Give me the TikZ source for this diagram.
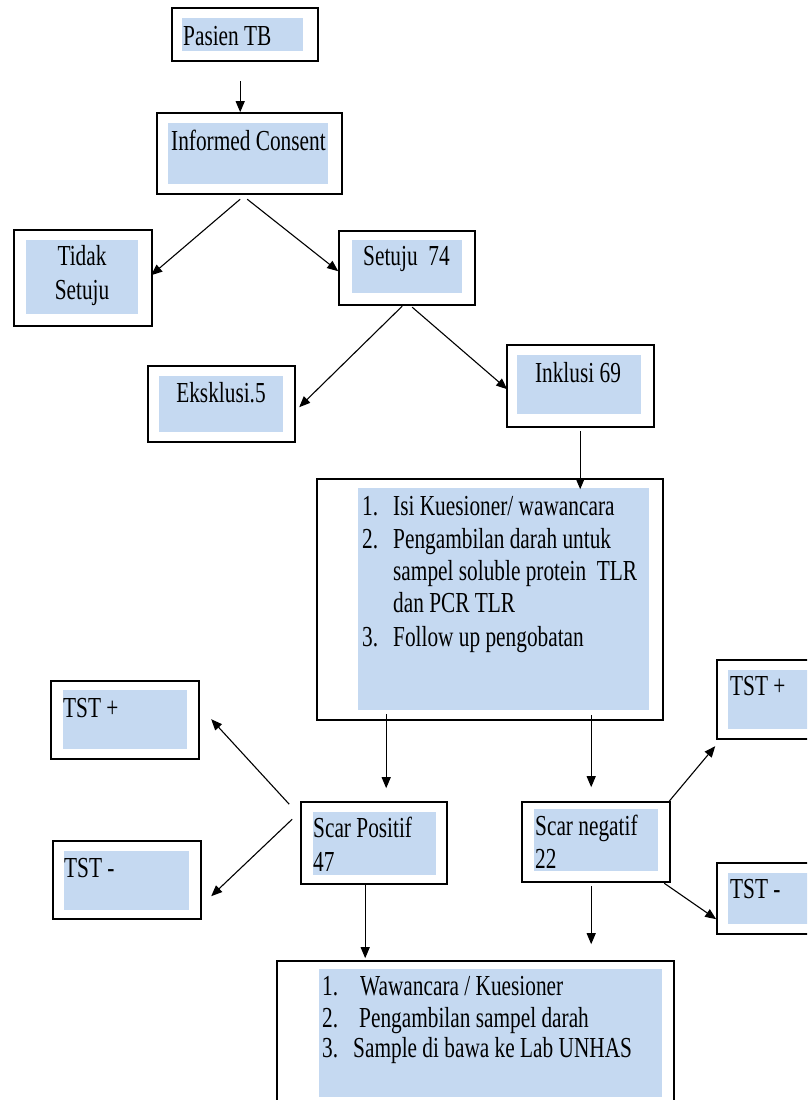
\documentclass[tikz,border=0pt]{standalone}
\usepackage{fontspec}
\setmainfont{Liberation Serif}[FakeStretch=0.735]
\usetikzlibrary{arrows.meta,calc,fit}

\definecolor{boxblue}{RGB}{197,217,241}

\tikzset{
  outerbox/.style={draw=black, line width=1.6pt, inner sep=0pt, fill=white},
  innerfill/.style={fill=boxblue},
  txt/.style={inner sep=0pt, anchor=base west, font=\fontsize{29}{32.5}\selectfont},
  ctxt/.style={txt, anchor=base},
  arr/.style={draw=black, line width=1.1pt, -{Triangle[length=11pt,width=9pt]}}
}

\begin{document}
\begin{tikzpicture}[x=1pt, y=-1pt]
  \useasboundingbox (0,0) rectangle (807,1100);
  \clip (0,0) rectangle (807,1100);
  \fill[white] (0,0) rectangle (807,1100);

  % ---- boxes: frame, shaded panel, text ----
  \node[outerbox, fit={(172,8) (318,61)}] (pasien) {};
  \fill[innerfill] (182,18) rectangle (303,51);
  \node[txt] at (183,45) {Pasien TB};

  \node[outerbox, fit={(157,113) (342,194)}] (consent) {};
  \fill[innerfill] (168,123) rectangle (328,184);
  \node[txt] at (171,150) {Informed Consent};

  \node[outerbox, fit={(14,230) (152,326)}] (tidak) {};
  \fill[innerfill] (26,240) rectangle (138,314);
  \node[ctxt] at (82,265) {Tidak};
  \node[ctxt] at (82,299) {Setuju};

  \node[outerbox, fit={(339,231) (475,305)}] (setuju) {};
  \fill[innerfill] (352,240) rectangle (462,293);
  \node[txt] at (363,265) {Setuju~\ 74};

  \node[outerbox, fit={(148,366) (295,442)}] (eksklusi) {};
  \fill[innerfill] (159,376) rectangle (283,432);
  \node[ctxt] at (221,402) {Eksklusi.5};

  \node[outerbox, fit={(507,345) (654,427)}] (inklusi) {};
  \fill[innerfill] (517,355) rectangle (641,414);
  \node[ctxt] at (578,382) {Inklusi 69};

  \node[outerbox, fit={(317,479) (663,720)}] (steps) {};
  \fill[innerfill] (358,488) rectangle (649,710);
  \node[txt] at (362,515) {1.};
  \node[txt] at (393,515) {Isi Kuesioner/ wawancara};
  \node[txt] at (362,548) {2.};
  \node[txt] at (393,548) {Pengambilan darah untuk};
  \node[txt] at (393,580) {sampel soluble protein~\ TLR};
  \node[txt] at (393,612) {dan PCR TLR};
  \node[txt] at (362,646) {3.};
  \node[txt] at (393,646) {Follow up pengobatan};

  \node[outerbox, fit={(51,681) (199,759)}] (tstposL) {};
  \fill[innerfill] (63,690) rectangle (187,749);
  \node[txt] at (63,717) {TST +};

  \node[outerbox, fit={(53,841) (201,919)}] (tstnegL) {};
  \fill[innerfill] (64,851) rectangle (189,910);
  \node[txt] at (64,877) {TST -};

  \node[outerbox, fit={(301,802) (447,884)}] (scarpos) {};
  \fill[innerfill] (313,812) rectangle (436,875);
  \node[txt] at (313,837) {Scar Positif};
  \node[txt] at (313,871) {47};

  \node[outerbox, fit={(522,802) (670,882)}] (scarneg) {};
  \fill[innerfill] (534,809) rectangle (658,871);
  \node[txt] at (535,835) {Scar negatif};
  \node[txt] at (535,868) {22};

  \node[outerbox, fit={(717,660) (830,739)}] (tstposR) {};
  \fill[innerfill] (728,670) rectangle (815,729);
  \node[txt] at (730,695) {TST +};

  \node[outerbox, fit={(717,863) (830,934)}] (tstnegR) {};
  \fill[innerfill] (728,873) rectangle (815,924);
  \node[txt] at (730,898) {TST -};

  \node[outerbox, fit={(277,961) (674,1115)}] (final) {};
  \fill[innerfill] (319,969) rectangle (662,1097);
  \node[txt] at (322,995) {1.};
  \node[txt] at (360,995) {Wawancara / Kuesioner};
  \node[txt] at (322,1027) {2.};
  \node[txt] at (359,1027) {Pengambilan sampel darah};
  \node[txt] at (322,1057) {3.};
  \node[txt] at (353,1057) {Sample di bawa ke Lab UNHAS};

  % ---- connectors ----
  \draw[arr] ($(pasien.north west)+(69,74)$) -- ($(consent.north west)+(84,0)$);
  \draw[arr] ($(consent.north west)+(84,87)$) -- ($(tidak.north west)+(138,46)$);
  \draw[arr] ($(consent.north west)+(91,87)$) -- ($(setuju.north west)+(0,41)$);
  \draw[arr] ($(setuju.north west)+(64,76)$) -- ($(eksklusi.north west)+(152,42)$);
  \draw[arr] ($(setuju.north west)+(74,77)$) -- ($(inklusi.north west)+(1,45)$);
  \draw[arr] ($(inklusi.north west)+(74,87)$) -- ($(steps.north west)+(264,11)$);
  \draw[arr] ($(steps.north west)+(70,236)$) -- ($(scarpos.north west)+(86,-13)$);
  \draw[arr] ($(steps.north west)+(275,237)$) -- ($(scarneg.north west)+(70,-14)$);
  \draw[arr] ($(scarpos.north west)+(-11,3)$) -- ($(tstposL.north west)+(161,39)$);
  \draw[arr] ($(scarpos.north west)+(-8,18)$) -- ($(tstnegL.north west)+(159,56)$);
  \draw[arr] ($(scarpos.north west)+(65,82)$) -- ($(final.north west)+(89,-2)$);
  \draw[arr] ($(scarneg.north west)+(148,0)$) -- ($(tstposR.north west)+(-1,87)$);
  \draw[arr] ($(scarneg.north west)+(143,82)$) -- ($(tstnegR.north west)+(0,57)$);
  \draw[arr] ($(scarneg.north west)+(70,85)$) -- ($(final.north west)+(315,-16)$);
\end{tikzpicture}
\end{document}
